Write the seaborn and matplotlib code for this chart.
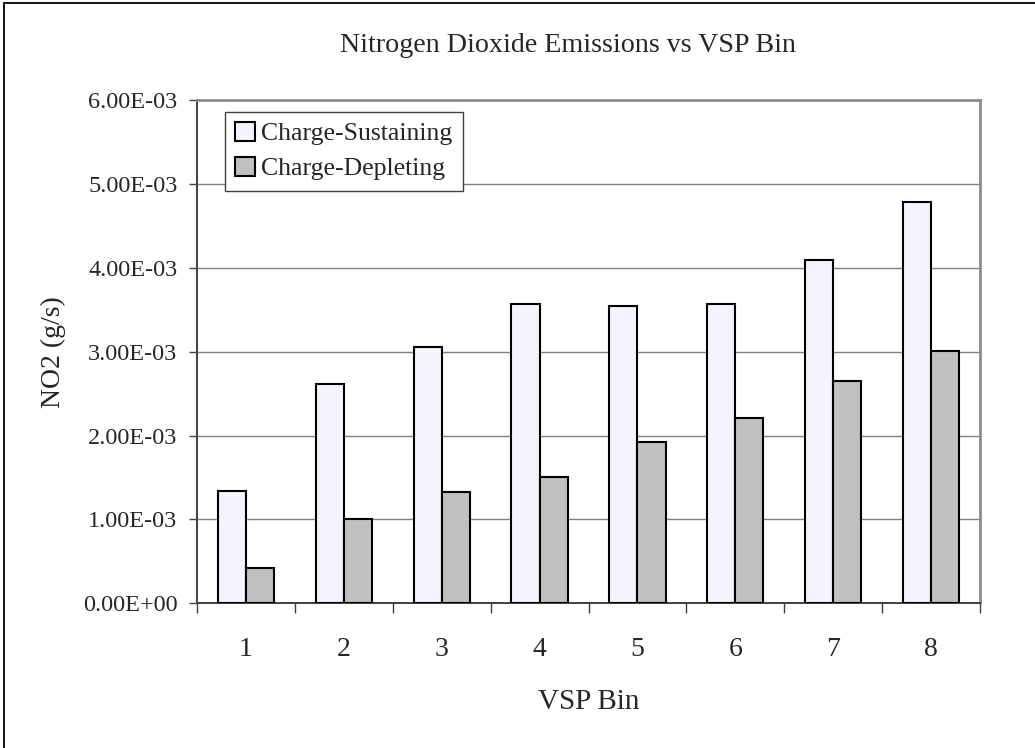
import matplotlib
matplotlib.use("Agg")
import matplotlib.pyplot as plt
from matplotlib.lines import Line2D
from matplotlib.ticker import FuncFormatter, FixedLocator
import seaborn as sns
import pandas as pd

# NO2 emission rates (g/s) per VSP bin
vsp_bins = ["1", "2", "3", "4", "5", "6", "7", "8"]
charge_sustaining = [1.338e-3, 2.61e-3, 3.055e-3, 3.564e-3, 3.547e-3, 3.567e-3, 4.092e-3, 4.779e-3]
charge_depleting = [0.424e-3, 1.005e-3, 1.323e-3, 1.509e-3, 1.926e-3, 2.205e-3, 2.653e-3, 3.011e-3]
series_names = ["Charge-Sustaining", "Charge-Depleting"]
y_ticks = [0.0, 1e-3, 2e-3, 3e-3, 4e-3, 5e-3, 6e-3]

df = pd.DataFrame({
    "VSP Bin": vsp_bins * 2,
    "NO2": charge_sustaining + charge_depleting,
    "Mode": [series_names[0]] * len(vsp_bins) + [series_names[1]] * len(vsp_bins),
})

sns.set_theme(style="white")
plt.rcParams["font.family"] = ["Liberation Serif", "DejaVu Serif"]

fig = plt.figure(figsize=(10.35, 7.48), dpi=100)
ax = fig.add_axes([197 / 1035, 1 - 603.3 / 748, (980 - 197) / 1035, (603.3 - 100) / 748])

palette = {series_names[0]: "#F4F4FF", series_names[1]: "#C0C0C0"}
sns.barplot(data=df, x="VSP Bin", y="NO2", hue="Mode", order=vsp_bins,
            hue_order=series_names, palette=palette, width=0.575,
            edgecolor="black", linewidth=1.5, saturation=1, ax=ax,
            legend=False, zorder=3)

ax.set_xlim(-0.5, len(vsp_bins) - 0.5)
ax.set_ylim(0, 6e-3)
ax.set_yticks(y_ticks)
ax.yaxis.set_major_formatter(FuncFormatter(lambda v, p: f"{v:.2E}"))
ax.yaxis.grid(True, color="#808080", linewidth=1.0, zorder=0)
ax.set_axisbelow(True)

# category labels centred, tick marks at the bin boundaries
ax.xaxis.set_minor_locator(FixedLocator([i - 0.5 for i in range(len(vsp_bins) + 1)]))
ax.tick_params(axis="x", which="major", length=0, pad=24, labelsize=20)
ax.tick_params(axis="x", which="minor", length=7, width=1.0, color="#404040", direction="out", bottom=True)
ax.tick_params(axis="y", which="major", length=6, width=1.0, color="#404040", direction="out", left=True, pad=8, labelsize=17.5)

for side in ("left", "bottom"):
    ax.spines[side].set_color("#404040")
    ax.spines[side].set_linewidth(1.4)
for side in ("top", "right"):
    ax.spines[side].set_visible(True)
    ax.spines[side].set_color("#8c8c8c")
    ax.spines[side].set_linewidth(2.0)

ax.set_xlabel("VSP Bin", fontsize=21, labelpad=20)
ax.set_ylabel("NO2 (g/s)", fontsize=20, labelpad=12)

# legend
handles = [plt.Rectangle((0, 0), 1, 1, facecolor=palette[n], edgecolor="black", linewidth=1.5)
           for n in series_names]
leg = ax.legend(handles, series_names, loc="upper left", bbox_to_anchor=(28 / 783, 1 - 11.7 / 503.3),
                fontsize=18.5, frameon=True, fancybox=False, handlelength=0.75, handleheight=0.75,
                handletextpad=0.25, borderpad=0.4, labelspacing=0.45, borderaxespad=0)
leg.get_frame().set_edgecolor("#404040")
leg.get_frame().set_linewidth(1.0)
leg.get_frame().set_facecolor("white")
leg.get_frame().set_alpha(1)

fig.text(568 / 1035, 1 - 45 / 748, "Nitrogen Dioxide Emissions vs VSP Bin",
         ha="center", va="center", fontsize=20.2)

# outer chart frame (left and top edges)
fig.add_artist(Line2D([4 / 1035, 4 / 1035], [0, 1 - 3 / 748], color="black", linewidth=1.3,
                      transform=fig.transFigure))
fig.add_artist(Line2D([4 / 1035, 1], [1 - 3 / 748, 1 - 3 / 748], color="black", linewidth=1.3,
                      transform=fig.transFigure))

fig.savefig("out.png", dpi=100)
